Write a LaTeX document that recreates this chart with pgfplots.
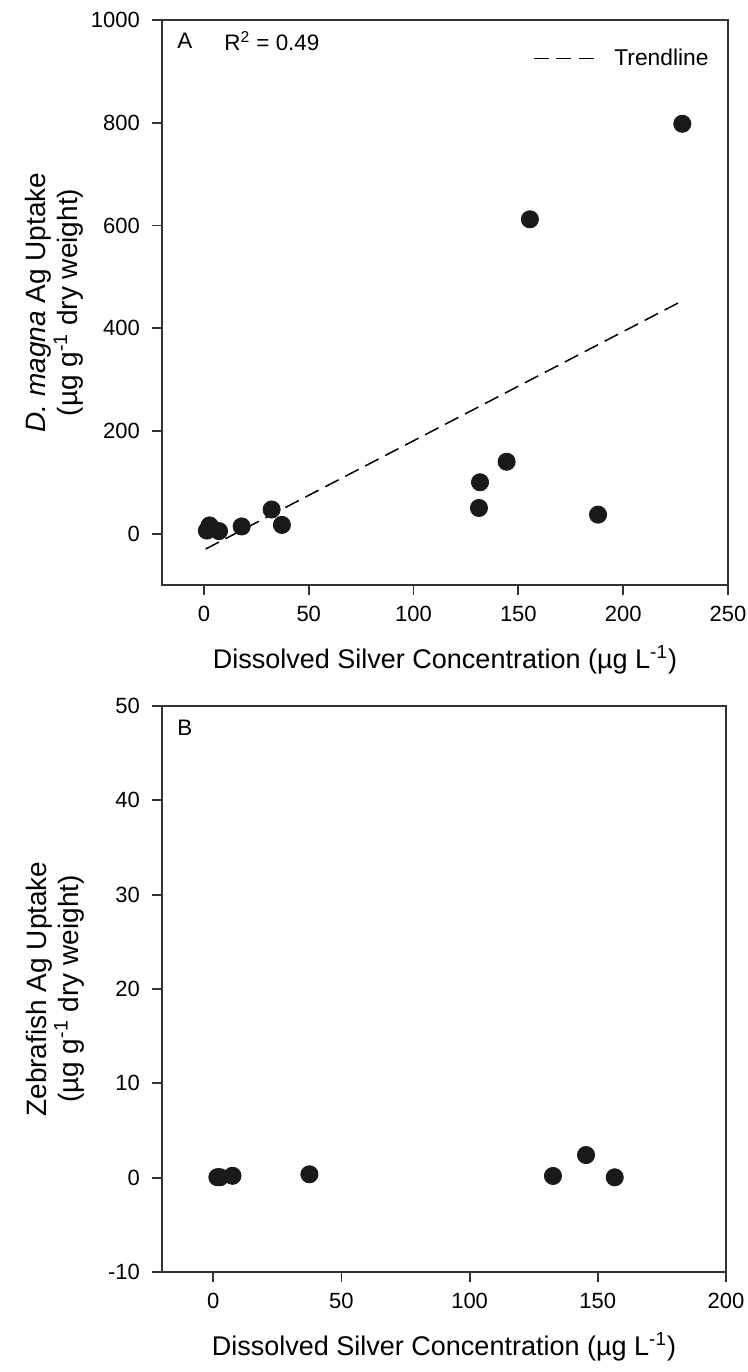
\documentclass[border=0pt]{standalone}
\usepackage{fontspec}
\setmainfont{Liberation Sans}
\usepackage{pgfplots}
\pgfplotsset{compat=1.18}

\pgfplotstableread{
x y
1.4 6
2.7 16
7.2 5
18 14
32.3 47
37.2 17
131.2 50
131.7 100
144.4 140
155.5 612
188 37
228.2 798
}\dataA

\pgfplotstableread{
x y
1.6 0.05
2.6 0.05
7.5 0.2
37.5 0.36
132.5 0.18
145.4 2.4
156.6 0.04
}\dataB

\begin{document}
\begin{tikzpicture}
\useasboundingbox (0,0) rectangle (374pt,-686pt);
\pgfplotsset{
  myaxis/.style={
    scale only axis, width=283pt, height=282.5pt,
    axis line style={black!80, line width=0.9pt},
    every tick/.style={black!80, line width=0.9pt},
    tick align=outside, major tick length=5pt,
    xtick pos=bottom, ytick pos=left,
    /pgf/number format/assume math mode=true,
    /pgf/number format/1000 sep={},
    scaled ticks=false,
    ticklabel style={font=\fontsize{11}{13}\selectfont},
    xticklabel style={yshift=-2pt},
    yticklabel style={xshift=-2.5pt},
    label style={font=\fontsize{13.5}{15.5}\selectfont},
    ylabel style={align=center, at={(axis description cs:-0.19,0.5)}, anchor=center, font=\fontsize{14}{16}\selectfont},
    xlabel style={at={(axis description cs:0.5,0)}, anchor=center, yshift=-37.5pt},
    legend style={draw=none, fill=none, font=\fontsize{11.4}{13}\selectfont},
  }
}
\begin{axis}[myaxis, at={(81pt,-292.5pt)}, anchor=south west,
  xmin=-20, xmax=250, ymin=-100, ymax=1000,
  xtick={0,50,...,250}, ytick={0,200,...,1000},
  xlabel={Dissolved Silver Concentration (µg L\textsuperscript{-1})},
  ylabel={\textit{D. magna} Ag Uptake\\(µg g\textsuperscript{-1} dry weight)},
  legend style={at={(axis description cs:0.984,0.932)}, anchor=east},
  legend image code/.code={\draw[black, line width=0.75pt, dash pattern=on 7.5pt off 3.75pt] (0pt,0pt) -- (30pt,0pt); \path (38pt,0pt);},
]
\addplot[only marks, mark=*, mark size=4.3pt, black!90, forget plot] table[x=x,y=y]{\dataA};
\addplot[black, line width=0.75pt, dash pattern=on 7.5pt off 3.75pt] coordinates {(0.8,-30) (229,455)};
\addlegendentry{Trendline}
\node[anchor=west, font=\fontsize{11.2}{13}\selectfont, inner sep=0pt] at (rel axis cs:0.0265,0.963) {A};
\node[anchor=west, font=\fontsize{11.2}{13}\selectfont, inner sep=0pt] at (rel axis cs:0.1095,0.963) {R\textsuperscript{2} = 0.49};
\end{axis}

\begin{axis}[myaxis, at={(81pt,-636pt)}, anchor=south west, width=282pt, height=283pt,
  xmin=-20, xmax=200, ymin=-10, ymax=50,
  xtick={0,50,...,200}, ytick={-10,0,...,50},
  xlabel={Dissolved Silver Concentration (µg L\textsuperscript{-1})},
  ylabel={Zebrafish Ag Uptake\\(µg g\textsuperscript{-1} dry weight)},
]
\addplot[only marks, mark=*, mark size=4.3pt, black!90] table[x=x,y=y]{\dataB};
\node[anchor=west, font=\fontsize{11.2}{13}\selectfont, inner sep=0pt] at (rel axis cs:0.0265,0.961) {B};
\end{axis}
\end{tikzpicture}
\end{document}
